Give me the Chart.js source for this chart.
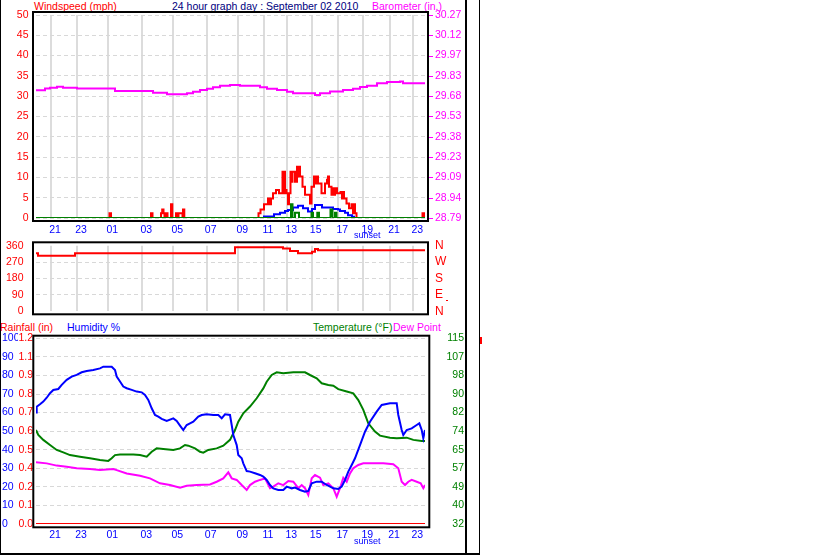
<!DOCTYPE html>
<html><head><meta charset="utf-8">
<script src="https://cdn.jsdelivr.net/npm/chart.js@4/dist/chart.umd.min.js"></script>
<style>
html,body{margin:0;padding:0;background:#fff;width:833px;height:559px;overflow:hidden;position:relative;font-family:"Liberation Sans",Arial,sans-serif;}
.box{position:absolute;}
.t{position:absolute;font-size:10.5px;line-height:12px;white-space:nowrap;}
.ln{position:absolute;background:#000;}
</style></head><body>
<div class="ln" style="left:0;top:0;width:1px;height:555px"></div>
<div class="ln" style="left:0;top:553px;width:480px;height:2px"></div>
<div class="ln" style="left:465px;top:0;width:1.5px;height:554px"></div>
<div class="ln" style="left:478.5px;top:0;width:1.5px;height:555px"></div>
<div class="ln" style="left:480px;top:337px;width:2px;height:7px;background:#f00"></div>
<div class="ln" style="left:446px;top:300px;width:2px;height:1px;background:#f00"></div>

<div class="t" style="left:34px;top:0;color:#f00">Windspeed (mph)</div>
<div class="t" style="left:172px;top:0;color:#000080">24 hour graph day : September 02 2010</div>
<div class="t" style="left:372px;top:0;color:#f0f">Barometer (in.)</div>
<div class="t" style="left:0;top:321px;color:#f00">Rainfall (in)</div>
<div class="t" style="left:67px;top:321px;color:#00f">Humidity %</div>
<div class="t" style="left:313px;top:321px;color:#008000">Temperature (°F)</div>
<div class="t" style="left:393px;top:321px;color:#f0f">Dew Point</div>

<div class="box" style="left:0;top:0;width:466px;height:240px"><canvas id="c1" width="466" height="240"></canvas></div>
<div class="box" style="left:0;top:240px;width:466px;height:80px"><canvas id="c2" width="466" height="80"></canvas></div>
<div class="box" style="left:0;top:320px;width:466px;height:239px"><canvas id="c3" width="466" height="239"></canvas></div>

<script>
// ---- x axis (record index along the day) ----
const hourTickPos = [15, 41, 72.3, 106.3, 137.3, 170.7, 202.3, 228, 251.3, 275.7, 302.3, 327.3, 354, 377.3];
const hourLabels  = ['21','23','01','03','05','07','09','11','13','15','17','19','21','23'];
const sunsetPos = 327.3;

// ---- top panel: wind (mph) & barometer (in.) ----
const windTicks = [0,5,10,15,20,25,30,35,40,45,50];
const baroTickLabels = ['28.79','28.94','29.09','29.23','29.38','29.53','29.68','29.83','29.97','30.12','30.27'];
const baroX = [0,7,9,14,21,26,27,41,74,79,107,117,131,146,151,157,164,171,177,184,194,204,217,224,231,241,251,257,267,274,279,284,294,307,317,324,331,341,351,364,367,389];
const baroV = [29.721,29.721,29.735,29.74,29.747,29.747,29.74,29.735,29.735,29.716,29.716,29.704,29.692,29.692,29.699,29.711,29.723,29.733,29.743,29.755,29.76,29.755,29.755,29.743,29.733,29.723,29.711,29.699,29.699,29.699,29.687,29.699,29.713,29.723,29.733,29.745,29.755,29.772,29.781,29.786,29.772,29.772];
const gustX = [0,73.5,75,115,116.5,125,126.2,127.5,128.5,130,131.5,135,136.3,140,141.5,142.5,146.5,147,148.3,222.5,224.5,228,232,234,235,237,240,243,246.5,247.5,248.5,249,250.5,252,253,254.5,255.5,256.5,259,261,262,263,264,266.5,269,274,275.5,278,280,281,282,285.5,289,291,292,293,295.5,297,298,299,301,304.5,306,307,308,310.5,313,315.5,317,318,319,320.5,386.5,388,389];
const gustV = [0,1.2,0,1.2,0,1.2,2.1,1.2,0,1.2,0,3.4,0,1.2,0,1.2,0,2.1,0,1.2,2.1,3.4,4.8,3.4,4.8,6.1,6.9,6.1,11.4,6.1,11.4,6.9,6.1,3.4,6.1,11.4,8.9,11.4,8.9,12.6,10.2,12.6,10.2,7.7,5.7,3.6,7.7,10.2,8.5,10.2,8.5,6.1,8.5,9.4,10.2,7.7,5.7,7.3,5.7,7.3,6.1,6.4,4.8,6.4,4.8,3.6,2.4,3.4,1.2,3.4,1.2,0,1.2,0,0];
const avgX = [227,228,236,238,244,249,252,256,257,261,262,265,267,270,272,275,276,279,284,286,294,297,302,304,309,312,316,318];
const avgV = [0,0.4,0.4,0.9,1.3,1.7,2.0,2.0,2.6,2.6,3.0,3.0,2.4,2.4,1.6,1.6,2.2,3.2,3.2,2.6,2.6,2.2,2.1,1.7,1.3,0.7,0.3,0];
const greenX = [0,255,256.5,259,263,275.5,277,281.3,283,294.5,296.5,299,300.5,389];
const greenV = [0,3.4,0,1.3,0,1.3,0,1.3,0,2.1,0,1.3,0,0];

// ---- middle panel: wind direction (degrees) ----
const dirTicks = [0,90,180,270,360];
const dirTickLabels = ['N','E','S','W','N'];
const dirX = [0,2,39,199,247,254,262,276,279,282,389];
const dirV = [318,305,318,351,344,331,318,327,342,335,335];

// ---- bottom panel ----
const humTicks = [0,10,20,30,40,50,60,70,80,90,100];
const rainTickLabels = ['0.0','0.1','0.2','0.4','0.5','0.6','0.7','0.8','0.9','1.1','1.2'];
const tempTickLabels = ['32','40','49','57','65','74','82','90','98','107','115'];
const humX = [0,0.7,4,7.3,10.7,14,17.3,22.3,25.7,30.7,35.7,40.7,45.7,50.7,57.3,64,67.3,75.7,79,80.7,84,87.3,90.7,95.7,100.7,105.7,109,112.3,115.7,119,122.3,125.7,130.7,137.3,140.7,144,147.3,150.7,154,157.3,162.3,165.7,170.7,177.3,182.3,185.7,189,194,195.7,197.3,200.7,202.3,205.7,207.3,210.7,214,219,224,227.3,230.7,234,237.3,242.3,247.3,250.7,255.7,259,264,269,272.3,275.7,280.7,285.7,290.7,297.3,302.3,305.7,309,312.3,315.7,319,324,329,334,340.7,345.7,354,360.7,362.3,365.7,367.3,370.7,375.7,380.7,383.3,385.7,387.3,388.3,389];
const humV = [60.1,63.2,64.5,65.9,68,70.4,72.2,72.7,74.9,77.6,79.4,80.3,81.7,82.4,82.9,83.8,84.7,84.7,82.9,79.4,76.7,74,73.1,72.2,71.3,70.9,69.5,66.8,62.3,58.7,57.8,56.6,55.5,56.9,55.5,53,50.6,53.3,54.2,55.1,57.8,58.7,59.1,58.7,58.7,56.9,59.1,58.7,53.3,47.9,42.5,37.2,35.4,32.7,28.5,28.2,27.3,26.4,25.5,23.7,21,19.2,18.3,18.3,20.1,19.2,19.6,18.3,17.4,17.8,21.9,22.8,22.8,21,19.2,18.9,20.1,23.7,28.2,31.8,35.4,42.5,49.7,55.1,60.5,64.1,65,65,58.7,50.6,47.9,50.6,51.5,53.3,54.2,50.6,46.1,48.8,50.6];
const tempX = [0,2.3,7.3,14,20.7,27.3,34,44,54,64,72.3,75.7,79,84,97.3,104,110.7,115.7,120.7,127.3,137.3,144,149,152.3,159,164,167.3,172.3,180.7,187.3,194,199,202.3,207.3,214,220.7,227.3,230.7,235.7,240.7,247.3,257.3,269,274,280.7,285.7,292.3,297.3,302.3,310.7,317.3,322.3,327.3,332.3,339,344,354,360.7,370.7,377.3,385.7,389];
const tempV = [74,71.8,69.6,67.3,65.1,64,62.8,62.1,61.4,60.6,60.2,61.4,62.8,63.1,63.1,62.8,62.1,64.3,65.8,65.5,65.1,65.8,67.3,67,65.8,64.3,63.9,65.1,65.8,67,69.6,74,77.7,81.5,84.5,88.2,92.6,95.6,98.6,99.8,99.4,99.8,99.8,98.6,97.1,94.9,94.1,93.8,92.3,91.2,90.4,87.4,83,77,73.3,71.5,70.6,70.3,70.6,69.6,69.1,69.1];
const dewX = [0,10.7,20.7,30.7,40.7,54,64,77.3,80.7,90.7,104,114,124,134,144,150.7,160.7,174,180.7,187.3,192.3,195.7,200.7,205.7,210.7,214,219,224,229,234,237.3,242.3,247.3,252.3,257.3,262.3,265.7,269,272.3,275.7,279,284,287.3,292.3,297.3,300.7,304,307.3,310.7,314,317.3,322.3,327.3,334,347.3,357.3,362.3,365.7,369,372.3,375.7,380.7,384.7,387.3,389];
const dewV = [59.6,59.1,58.1,57.6,56.9,56.6,56.1,56.6,56.1,54.6,53.6,52.4,50.2,49.4,48.2,49.1,49.4,49.7,50.9,52.4,55.1,52.4,51.7,49.4,47.2,49.4,50.9,51.7,52.4,48,48.7,50.2,49.4,51.2,50.9,48,49.4,48,45,52.4,53.9,52.7,49.4,50.2,48,44.2,48,52.7,50.9,54.6,56.9,58.4,59.1,59.1,59.1,58.7,56.9,50.9,49.4,50.9,51.7,50.9,50.2,48,49.4];
const rainX = [0,389];
const rainV = [0,0];

// ---- helpers ----
const pts = (xs, vs) => xs.map((x, i) => ({x, y: vs[i]}));
const evenTicks = (min, max, n) => { const a = []; for (let i = 0; i < n; i++) a.push(min + (max - min) * i / (n - 1)); return a; };
const fixW = w => s => { s.width = w; s.paddingTop = 0; s.paddingBottom = 0; };

Chart.defaults.font.family = '"Liberation Sans", Arial, sans-serif';
Chart.defaults.font.size = 10.5;
Chart.defaults.animation = false;
Chart.defaults.plugins.legend.display = false;
Chart.defaults.plugins.tooltip.enabled = false;
Chart.defaults.elements.point.radius = 0;
Chart.defaults.elements.line.tension = 0;

const framePlugin = {
  id: 'frame',
  afterDraw(chart, args, o) {
    const a = chart.chartArea, c = chart.ctx;
    c.save(); c.strokeStyle = '#000'; c.lineWidth = 2;
    c.strokeRect(a.left - o.l, a.top - o.t, a.right - a.left + o.l + o.r, a.bottom - a.top + o.t + o.b);
    c.restore();
  }
};
const sunsetPlugin = {
  id: 'sunset',
  afterDraw(chart, args, o) {
    if (!o.show) return;
    const x = chart.scales.x.getPixelForValue(sunsetPos) + 4;
    const c = chart.ctx; c.save();
    c.font = '9px "Liberation Sans", Arial, sans-serif'; c.fillStyle = '#00f';
    c.textAlign = 'center'; c.textBaseline = 'middle';
    c.fillText('sunset', x, chart.chartArea.bottom + o.dy);
    c.restore();
  }
};
const dashPlugin = {
  id: 'tickdash',
  afterDraw(chart, args, o) {
    if (!o.axis) return;
    const s = chart.scales[o.axis], c = chart.ctx; c.save();
    c.strokeStyle = o.color; c.lineWidth = 1;
    s.ticks.forEach((t, i) => { const y = Math.round(s.getPixelForTick(i)) + 0.5; c.beginPath(); c.moveTo(o.x0, y); c.lineTo(o.x1, y); c.stroke(); });
    c.restore();
  }
};
Chart.register(framePlugin, sunsetPlugin, dashPlugin);

function xScale(opts) {
  return {
    type: 'linear', min: 0, max: 389,
    afterBuildTicks: s => { s.ticks = hourTickPos.map(v => ({value: v})); },
    afterFit: s => { s.height = opts.h; s.paddingLeft = 0; s.paddingRight = 0; },
    ticks: { autoSkip: false, maxRotation: 0, color: '#00f', padding: opts.pad, labelOffset: 4, display: opts.labels,
             callback: (v, i) => hourLabels[i] },
    grid: { display: true, drawOnChartArea: opts.grid, drawTicks: false, color: '#dcdcdc', lineWidth: 2 },
    border: { display: false }
  };
}

// ---- chart 1 ----
new Chart(document.getElementById('c1'), {
  type: 'line',
  data: { datasets: [
    { data: pts(greenX, greenV), borderColor: '#008000', borderWidth: 2, stepped: true, yAxisID: 'y', order: 1 },
    { data: pts(avgX, avgV), borderColor: '#0000ff', borderWidth: 2, stepped: true, yAxisID: 'y', order: 2 },
    { data: pts(gustX, gustV), borderColor: '#ff0000', borderWidth: 2, stepped: true, yAxisID: 'y', order: 3 },
    { data: pts(baroX, baroV), borderColor: '#ff00ff', borderWidth: 2, stepped: true, yAxisID: 'y2', order: 4 }
  ]},
  options: {
    responsive: false, parsing: false,
    layout: { padding: { top: 15, left: 0, right: 0, bottom: 0 } },
    scales: {
      x: xScale({h: 22, pad: 6, labels: true, grid: true}),
      y: { position: 'left', min: 0, max: 50,
        afterBuildTicks: s => { s.ticks = windTicks.map(v => ({value: v})); },
        afterFit: fixW(36),
        ticks: { color: '#f00', padding: 7.5, autoSkip: false },
        grid: { color: '#d8d8d8', lineWidth: 1, drawTicks: false },
        border: { display: false, dash: [4, 3] } },
      y2: { position: 'right', min: 28.79, max: 30.27,
        afterBuildTicks: s => { s.ticks = evenTicks(28.79, 30.27, 11).map(v => ({value: v})); },
        afterFit: fixW(41),
        ticks: { color: '#f0f', padding: 10, autoSkip: false, callback: (v, i) => baroTickLabels[i] },
        grid: { drawOnChartArea: false, drawTicks: false },
        border: { display: false } }
    },
    plugins: { frame: {l: 3, t: 3, r: 3, b: 3}, sunset: {show: true, dy: 18}, tickdash: {axis: 'y2', color: '#f0f', x0: 429, x1: 433} }
  }
});

// ---- chart 2 ----
new Chart(document.getElementById('c2'), {
  type: 'line',
  data: { datasets: [
    { data: pts(dirX, dirV), borderColor: '#ff0000', borderWidth: 2, stepped: true, yAxisID: 'y' }
  ]},
  options: {
    responsive: false, parsing: false,
    layout: { padding: { top: 5.7, left: 0, right: 0, bottom: 0 } },
    scales: {
      x: xScale({h: 8.7, pad: 0, labels: false, grid: true}),
      y: { position: 'left', min: 0, max: 360,
        afterBuildTicks: s => { s.ticks = dirTicks.map(v => ({value: v})); },
        afterFit: fixW(36),
        ticks: { color: '#f00', padding: 12.5, autoSkip: false },
        grid: { color: (c) => (c.tick && (c.tick.value === 0 || c.tick.value === 360)) ? 'rgba(0,0,0,0)' : '#d8d8d8', lineWidth: 1, drawTicks: false },
        border: { display: false, dash: [4, 3] } },
      y2: { position: 'right', min: 0, max: 360,
        afterBuildTicks: s => { s.ticks = dirTicks.map(v => ({value: v})); },
        afterFit: fixW(41),
        ticks: { color: '#f00', padding: 10, autoSkip: false, font: { size: 12 }, callback: (v, i) => dirTickLabels[i] },
        grid: { drawOnChartArea: false, drawTicks: false },
        border: { display: false } }
    },
    plugins: { frame: {l: 3, t: 3.4, r: 3, b: 3}, sunset: {show: false}, tickdash: {} }
  }
});

// ---- chart 3 ----
new Chart(document.getElementById('c3'), {
  type: 'line',
  data: { datasets: [
    { data: pts(rainX, rainV), borderColor: '#ff0000', borderWidth: 2, yAxisID: 'rain', order: 1 },
    { data: pts(humX, humV), borderColor: '#0000ff', borderWidth: 2, yAxisID: 'hum', order: 2 },
    { data: pts(tempX, tempV), borderColor: '#008000', borderWidth: 2, yAxisID: 'temp', order: 3 },
    { data: pts(dewX, dewV), borderColor: '#ff00ff', borderWidth: 2, yAxisID: 'temp', order: 4 }
  ]},
  options: {
    responsive: false, parsing: false,
    layout: { padding: { top: 18.3, left: 2, right: 2, bottom: 0 } },
    scales: {
      x: xScale({h: 35, pad: 5, labels: true, grid: false}),
      hum: { position: 'left', weight: 1, min: 0, max: 100,
        afterBuildTicks: s => { s.ticks = humTicks.map(v => ({value: v})); },
        afterFit: fixW(16),
        ticks: { color: '#00f', padding: 0, crossAlign: 'far', autoSkip: false },
        grid: { drawOnChartArea: false, drawTicks: false },
        border: { display: false } },
      rain: { position: 'left', weight: 0, min: 0, max: 1.2,
        afterBuildTicks: s => { s.ticks = evenTicks(0, 1.2, 11).map(v => ({value: v})); },
        afterFit: fixW(18),
        ticks: { color: '#f00', padding: 3, autoSkip: false, callback: (v, i) => rainTickLabels[i] },
        grid: { color: (c) => (c.tick && c.index === 0) ? 'rgba(0,0,0,0)' : '#d8d8d8', lineWidth: 1, drawTicks: false },
        border: { display: false, dash: [4, 3] } },
      temp: { position: 'right', min: 32, max: 115,
        afterBuildTicks: s => { s.ticks = evenTicks(32, 115, 11).map(v => ({value: v})); },
        afterFit: fixW(39),
        ticks: { color: '#008000', padding: 0, crossAlign: 'far', autoSkip: false, callback: (v, i) => tempTickLabels[i] },
        grid: { drawOnChartArea: false, drawTicks: false },
        border: { display: false } }
    },
    plugins: { frame: {l: 2.7, t: 2.6, r: 4.3, b: 3.3}, sunset: {show: true, dy: 18}, tickdash: {} }
  }
});
</script>
</body></html>
